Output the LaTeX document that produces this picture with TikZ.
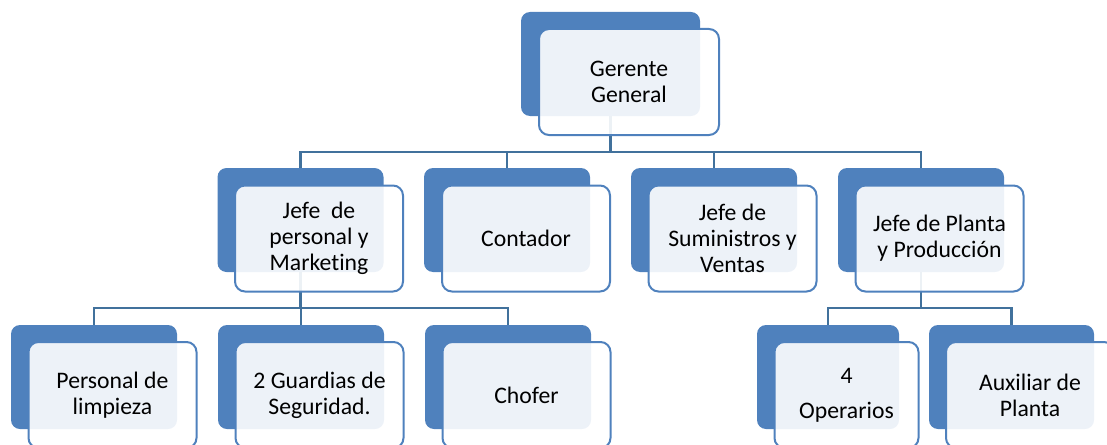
\documentclass[tikz,border=0pt]{standalone}
\usepackage{fontspec}
\setmainfont[Ligatures={NoCommon,NoRare}]{Carlito}
\pgfdeclarelayer{bg}
\pgfsetlayers{bg,main}
\definecolor{boxblue}{HTML}{4F81BD}
\definecolor{connblue}{HTML}{41719C}
\tikzset{
  backbox/.style={fill=boxblue, draw=none, rounded corners=9pt, inner sep=0pt, minimum width=166pt, minimum height=104pt},
  frontbox/.style={draw=boxblue, line width=2pt, fill=white, fill opacity=0.9, text opacity=1, rounded corners=10pt, inner sep=0pt, minimum width=168pt, minimum height=106pt, align=center, font=\fontsize{23.7}{26}\selectfont},
  conn/.style={draw=connblue, line width=2.4pt},
}
\begin{document}
\begin{tikzpicture}[x=1pt,y=-1pt]
\useasboundingbox (0,0) rectangle (1107,444);
% top
\node[backbox, minimum width=179pt] (gb) at (610.5,64) {};
\node[frontbox, minimum width=180pt] (g) at (629,82) {Gerente\\General};
% level 2
\node[backbox] (b1) at (300.5,220) {};
\node[frontbox] (f1) at (319,238.5) {Jefe~ de\\personal y\\Marke{}ting};
\node[backbox] (b2) at (507,220) {};
\node[frontbox] (f2) at (526,238.5) {Contador};
\node[backbox] (b3) at (714,220) {};
\node[frontbox] (f3) at (732.5,238.5) {Jefe de\\Suministros y\\Ventas};
\node[backbox] (b4) at (921,220) {};
\node[frontbox] (f4) at (939.5,238.5) {Jefe de Planta\\y Producción};
% level 3
\node[backbox] (c1) at (94,377) {};
\node[frontbox] (d1) at (112.5,395) {Personal de\\limpieza};
\node[backbox] (c2) at (301,377) {};
\node[frontbox] (d2) at (319.5,395) {2 Guardias de\\Seguridad.};
\node[backbox] (c3) at (508,377) {};
\node[frontbox] (d3) at (526.5,395) {Chofer};
\node[backbox, minimum width=142pt] (c4) at (828,377) {};
\node[frontbox, minimum width=144pt] (d4) at (846.5,395) {4\\[9pt]Operarios};
\node[backbox, minimum width=165pt] (c5) at (1011.5,377) {};
\node[frontbox] (d5) at (1030,395) {Auxiliar de\\Planta};
% connectors
\coordinate (busA) at (0,152);
\coordinate (busB) at (0,308);
\begin{pgfonlayer}{bg}
\foreach \n in {b1,b2,b3,b4}
  \draw[conn] (gb.south) -- (gb.south |- busA) -| (\n.north);
\foreach \n in {c1,c2,c3}
  \draw[conn] (b1.south) -- (b1.south |- busB) -| (\n.north);
\foreach \n in {c4,c5}
  \draw[conn] (b4.south) -- (b4.south |- busB) -| (\n.north);
\end{pgfonlayer}
\end{tikzpicture}
\end{document}
